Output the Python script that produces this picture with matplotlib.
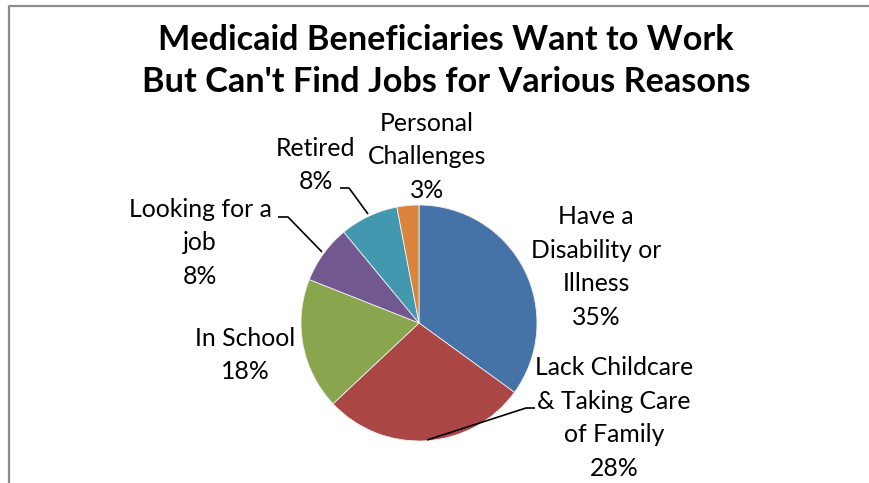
import matplotlib
matplotlib.use("Agg")
import matplotlib.pyplot as plt

categories = ["Have a\nDisability or\nIllness", "Lack Childcare\n& Taking Care\nof Family", "In School",
              "Looking for a\njob", "Retired", "Personal\nChallenges"]
values = [35, 28, 18, 8, 8, 3]
colors = ["#4572A7", "#AA4643", "#89A54E", "#71588F", "#4198AF", "#DB843D"]

W, H = 869, 483
fig = plt.figure(figsize=(W / 100, H / 100), dpi=100)
ax = fig.add_axes([0, 0, 1, 1])

def Y(y):
    return H - y

cx, cy, r = 419, 323, 118
ax.pie(values, colors=colors, startangle=90, counterclock=False,
       center=(cx, Y(cy)), radius=r, frame=True,
       wedgeprops=dict(edgecolor="#f0f0f0", linewidth=0.6))
ax.set_xlim(0, W)
ax.set_ylim(0, H)
ax.set_aspect("equal")
ax.axis("off")

font = "Lato"
fs = 17.8
ls = 1.55
labels_pos = [(596, 267), (614, 418), (245, 355), (200, 243), (316, 165), (427, 157)]
for cat, v, (x, y) in zip(categories, values, labels_pos):
    ax.text(x, Y(y), f"{cat}\n{v}%", ha="center", va="center", fontsize=fs,
            family=font, linespacing=ls, color="#000000")

# leader lines
leaders = [
    [(535, 408), (526, 408), (427, 440)],
    [(278, 217), (288, 217), (322, 252)],
    [(340, 188), (349, 188), (368, 214)],
]
for pts in leaders:
    ax.plot([p[0] for p in pts], [Y(p[1]) for p in pts], color="black", lw=1.2,
            solid_capstyle="butt")

# title
ax.text(446, Y(61), "Medicaid Beneficiaries Want to Work\nBut Can't Find Jobs for Various Reasons",
        ha="center", va="center", fontsize=24.7, fontweight="bold", family=font,
        linespacing=1.36, color="#000000")

# border
ax.plot([9, 9, W + 5], [Y(H + 5), Y(6), Y(6)], color="#8c8c8c", lw=1.6)

fig.savefig("out.png", dpi=100)
